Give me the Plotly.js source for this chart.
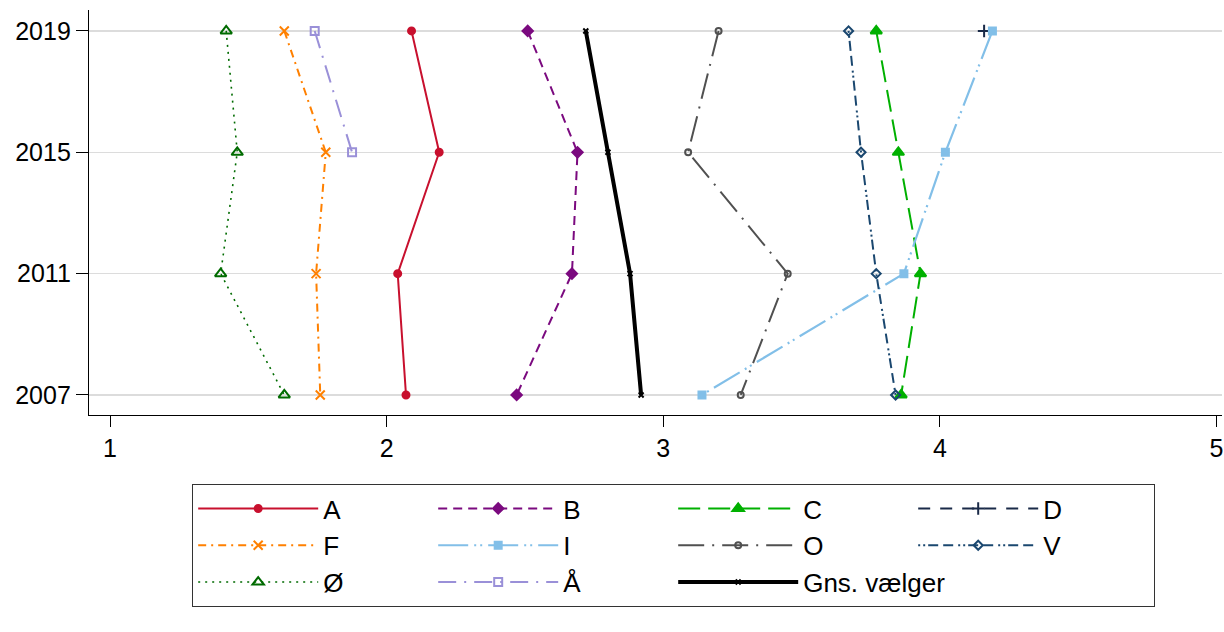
<!DOCTYPE html>
<html>
<head>
<meta charset="utf-8">
<script src="https://cdn.plot.ly/plotly-3.0.1.min.js"></script>
<style>html,body{margin:0;padding:0;background:#fff;}#chart{width:1224px;height:632px;}</style>
</head>
<body>
<div id="chart"></div>
<script>
// Years (y axis)
const years = [2019, 2015, 2011, 2007];
const yearTicks = [2007, 2011, 2015, 2019];
const xTicks = [1, 2, 3, 4, 5];

// Series values (x) per year, in the order of `years`
const A   = [2.09, 2.19, 2.04, 2.07];
const B   = [2.51, 2.69, 2.67, 2.47];
const C   = [3.77, 3.85, 3.93, 3.86];
const D   = [4.16, null, null, null];
const F   = [1.63, 1.78, 1.745, 1.76];
const I   = [4.19, 4.02, 3.87, 3.14];
const O   = [3.20, 3.09, 3.45, 3.28];
const V   = [3.67, 3.715, 3.77, 3.84];
const OE  = [1.42, 1.46, 1.40, 1.63];
const AA  = [1.74, 1.875, null, null];
const Gns = [2.72, 2.80, 2.88, 2.92];

const names = ["A","B","C","D","F","I","O","V","Ø","Å","Gns. vælger"];
const values = [A,B,C,D,F,I,O,V,OE,AA,Gns];

const styles = [
  {color:"#c8102e", dash:"solid", width:2, symbol:"circle", size:7},
  {color:"#7b0a7f", dash:"9px,6px", width:2, symbol:"diamond", size:8},
  {color:"#00b000", dash:"22px,8px", width:2, symbol:"triangle-up", size:10},
  {color:"#1a2a48", dash:"12px,10px", width:2, symbol:"cross-thin-open", size:9},
  {color:"#ff8000", dash:"8px,5px,2px,5px", width:2, symbol:"x-thin-open", size:9},
  {color:"#82bfe8", dash:"30px,6px,2px,4px,2px,6px", width:2.2, symbol:"square", size:7},
  {color:"#505050", dash:"26px,8px,2px,8px", width:2, symbol:"circle-open", size:6},
  {color:"#1a476f", dash:"2px,3px,2px,3px,10px,5px,10px,5px", width:2, symbol:"diamond-open", size:7},
  {color:"#006b00", dash:"2px,5px", width:1.6, symbol:"triangle-up-open", size:10},
  {color:"#9a90d8", dash:"18px,8px,2px,8px", width:2, symbol:"square-open", size:8},
  {color:"#000000", dash:"solid", width:4, symbol:"x-thin-open", size:5}
];

const traces = names.map((n, i) => ({
  type: "scatter",
  mode: "lines+markers",
  name: n,
  x: values[i],
  y: years,
  connectgaps: false,
  line: {color: styles[i].color, dash: styles[i].dash, width: styles[i].width},
  marker: {color: styles[i].color, symbol: styles[i].symbol, size: styles[i].size,
           line: {color: styles[i].color, width: 2}},
  hoverinfo: "x+y+name"
}));

const layout = {
  width: 1224, height: 632,
  margin: {l: 89, r: 2, t: 10, b: 217},
  paper_bgcolor: "#fff", plot_bgcolor: "#fff",
  font: {family: "Liberation Sans, Arial, sans-serif", color: "#000", size: 25},
  showlegend: true,
  xaxis: {
    range: [0.924, 5.02],
    tickvals: xTicks, ticktext: xTicks.map(String),
    ticks: "outside", ticklen: 11, tickcolor: "#000", tickwidth: 1,
    showgrid: false, zeroline: false,
    showline: true, linecolor: "#000", linewidth: 1.2,
    tickfont: {size: 25, family: "Liberation Sans, Arial, sans-serif", color: "#000"}
  },
  yaxis: {
    range: [2006.34, 2019.69],
    tickvals: yearTicks, ticktext: yearTicks.map(String),
    ticks: "outside", ticklen: 12, tickcolor: "#000", tickwidth: 1,
    showgrid: true, gridcolor: "#dcdcdc", gridwidth: 1.2,
    zeroline: false,
    showline: true, linecolor: "#000", linewidth: 1.2,
    tickfont: {size: 25, family: "Liberation Sans, Arial, sans-serif", color: "#000"}
  },
  legend: {
    orientation: "h",
    x: 0.0909, xanchor: "left",
    y: -0.17, yanchor: "top",
    entrywidth: 105, entrywidthmode: "pixels",
    itemwidth: 120,
    bgcolor: "#fff", bordercolor: "#333", borderwidth: 1.2,
    font: {size: 26, family: "Liberation Sans, Arial, sans-serif", color: "#000"},
    traceorder: "normal"
  }
};

Plotly.newPlot("chart", traces, layout, {displayModeBar: false, staticPlot: true});
</script>
</body>
</html>
